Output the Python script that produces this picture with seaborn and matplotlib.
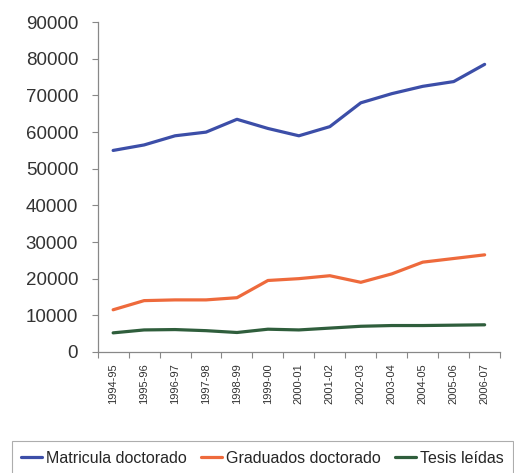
import numpy as np
import pandas as pd
import matplotlib
matplotlib.use('Agg')
import matplotlib.pyplot as plt
import seaborn as sns

# academic years
years = ["1994-95", "1995-96", "1996-97", "1997-98", "1998-99", "1999-00", "2000-01",
         "2001-02", "2002-03", "2003-04", "2004-05", "2005-06", "2006-07"]

matricula = [55000, 56500, 59000, 60000, 63500, 61000, 59000, 61500, 68000, 70500, 72500, 73800, 78500]
graduados = [11500, 14000, 14200, 14200, 14800, 19500, 20000, 20800, 19000, 21300, 24500, 25500, 26500]
tesis = [5200, 6000, 6100, 5800, 5300, 6200, 6000, 6500, 7000, 7200, 7200, 7300, 7400]

series_names = ["Matricula doctorado", "Graduados doctorado", "Tesis leídas"]
colors = ["#3c4ea8", "#ee6a3c", "#2f5e3c"]

df = pd.DataFrame({
    "idx": list(range(len(years))) * 3,
    "valor": matricula + graduados + tesis,
    "serie": [series_names[0]] * len(years) + [series_names[1]] * len(years) + [series_names[2]] * len(years),
})

sns.set_style("white")
plt.rcParams['font.family'] = ['Liberation Sans', 'DejaVu Sans']

fig = plt.figure(figsize=(5.14, 4.73), dpi=100)
ax = fig.add_axes([0.19, 0.256, 0.783, 0.697])

sns.lineplot(data=df, x="idx", y="valor", hue="serie", palette=colors,
             hue_order=series_names, linewidth=2.3, ax=ax, legend=False)

ax.set_xlim(-0.5, len(years) - 0.5)
ax.set_ylim(0, 90000)
ax.set_yticks(range(0, 90001, 10000))
ax.tick_params(axis='y', labelsize=13.5, colors='#333333', length=4, width=0.8,
               left=True, pad=10)
ax.tick_params(axis='y', color='#888888')

# tick marks between categories, labels at centres
ax.set_xticks(np.arange(-0.5, len(years), 1.0))
ax.set_xticklabels([])
ax.set_xticks(range(len(years)), minor=True)
ax.set_xticklabels(years, minor=True, rotation=90, fontsize=8, color='#333333')
ax.tick_params(axis='x', which='major', length=4, width=0.8, bottom=True, color='#888888')
ax.tick_params(axis='x', which='minor', length=0, pad=8)
ax.set_xlabel("")
ax.set_ylabel("")

for s in ["top", "right"]:
    ax.spines[s].set_visible(False)
for s in ["left", "bottom"]:
    ax.spines[s].set_color('#888888')
    ax.spines[s].set_linewidth(0.9)

handles = [plt.Line2D([], [], color=c, linewidth=2.3) for c in colors]
leg = fig.legend(handles, series_names, loc='lower left', ncol=3,
                 bbox_to_anchor=(0.023, -0.005),
                 fontsize=11.5, frameon=True, fancybox=False, handlelength=1.3,
                 handletextpad=0.25, columnspacing=0.9, borderaxespad=0.0,
                 borderpad=0.6)
leg.get_frame().set_edgecolor('#999999')
leg.get_frame().set_linewidth(0.8)

fig.savefig("out.png", dpi=100)
